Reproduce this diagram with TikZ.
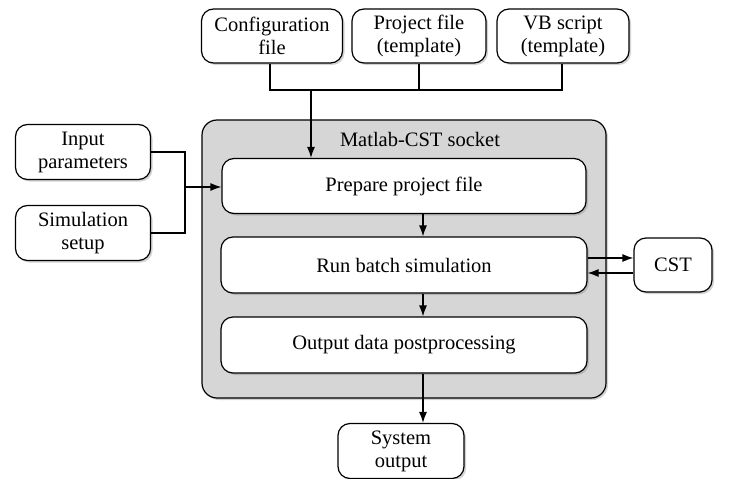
\documentclass[tikz,border=0pt]{standalone}
\usepackage{fontspec}
\setmainfont{Liberation Serif}
\usetikzlibrary{shadows,arrows.meta}
\begin{document}
\begin{tikzpicture}[x=1pt,y=-1pt,
  box/.style={draw,line width=1.2pt,fill=white,rounded corners=12pt,inner sep=0pt,align=center,
    font=\fontsize{20.5}{23}\selectfont,
    drop shadow={opacity=0.35,shadow xshift=2pt,shadow yshift=-2pt}},
  cont/.style={draw,line width=1.2pt,fill=black!16,rounded corners=15pt,
    drop shadow={opacity=0.35,shadow xshift=2pt,shadow yshift=-2pt}},
  arr/.style={line width=1.2pt,-{Latex[length=11pt,width=8pt]}},
  ln/.style={line width=1.2pt}]
\useasboundingbox (0,0) rectangle (755,479);
% container
\draw[cont] (202,120) rectangle (606,398);
\node[font=\fontsize{20.5}{23}\selectfont] (lbl) at (420,139) {Matlab-CST socket};
% top boxes
\node[box,minimum width=141pt,minimum height=54pt] (cfg) at (272,36) {Configuration\\file};
\node[box,minimum width=134pt,minimum height=54pt] (prj) at (419,36) {Project file\\(template)};
\node[box,minimum width=132pt,minimum height=54pt] (vb) at (563,36) {VB script\\(template)};
% left boxes
\node[box,minimum width=135pt,minimum height=55pt] (inp) at (83,152) {Input\\parameters};
\node[box,minimum width=135pt,minimum height=55pt] (sim) at (83,233) {Simulation\\setup};
% inner boxes
\node[box,minimum width=364pt,minimum height=55pt] (prep) at (404,186) {Prepare project file};
\node[box,minimum width=366pt,minimum height=56pt] (run) at (404,265) {Run batch simulation};
\node[box,minimum width=366pt,minimum height=56pt] (out) at (404,345) {Output data postprocessing};
% right and bottom
\node[box,minimum width=78pt,minimum height=54pt] (cst) at (673,265) {CST};
\node[box,minimum width=126pt,minimum height=55pt] (sys) at (401,451) {System\\output};
% connectors top
\coordinate (j1) at (270,90);
\coordinate (j3) at (562,90);
\draw[ln] (cfg.south -| j1) -- (j1) -- (j3) -- (vb.south -| j3);
\draw[ln] (prj.south) -- (prj.south |- j1);
\draw[arr] (311,90) -- (prep.north -| 311,0);
% connectors left
\coordinate (k) at (185,187);
\draw[ln] (inp.east) -- (inp.east -| k) -- (sim.east -| k) -- (sim.east);
\draw[arr] (k) -- (k -| prep.west);
% inner arrows
\draw[arr] (prep.south -| 423,0) -- (run.north -| 423,0);
\draw[arr] (run.south -| 423,0) -- (out.north -| 423,0);
\draw[arr] (out.south -| 423,0) -- (sys.north -| 423,0);
% CST arrows
\draw[arr] (run.east |- 0,258) -- (cst.west |- 0,258);
\draw[arr] (cst.west |- 0,273) -- (run.east |- 0,273);
\end{tikzpicture}
\end{document}
